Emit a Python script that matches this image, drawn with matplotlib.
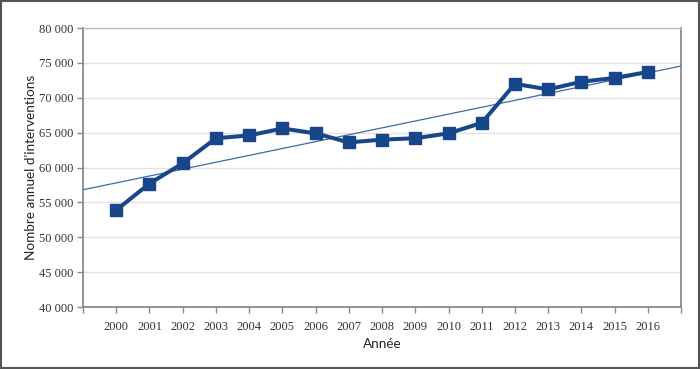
import numpy as np
import matplotlib
matplotlib.use("Agg")
import matplotlib.pyplot as plt
from matplotlib.patches import Rectangle

# Nombre annuel d'interventions par année
years = [2000, 2001, 2002, 2003, 2004, 2005, 2006, 2007, 2008,
         2009, 2010, 2011, 2012, 2013, 2014, 2015, 2016]
interventions = [53900, 57700, 60600, 64200, 64600, 65600, 64900, 63600, 64000,
                 64200, 64900, 66400, 72000, 71200, 72300, 72850, 73700]
y_ticks = [40000, 45000, 50000, 55000, 60000, 65000, 70000, 75000, 80000]
y_tick_labels = ["40 000", "45 000", "50 000", "55 000", "60 000",
                 "65 000", "70 000", "75 000", "80 000"]

line_color = "#17478a"
trend_color = "#3d6ba8"
axis_color = "#8a8a8a"
serif = "Liberation Serif"
sans = "Lato"

fig = plt.figure(figsize=(7.0, 3.69), dpi=100)
ax = fig.add_axes([0.1186, 0.168, 0.8544, 0.756])

# courbe principale
ax.plot(years, interventions, color=line_color, linewidth=2.9,
        marker="s", markersize=8, zorder=4)

# tendance linéaire sur tout l'axe
slope, intercept = np.polyfit(years, interventions, 1)
xs = np.array([1999, 2017])
ax.plot(xs, slope * xs + intercept, color=trend_color, linewidth=0.9, zorder=3)

ax.set_xlim(1999, 2017)
ax.set_ylim(40000, 80000)

ax.set_xticks(range(1999, 2018))
ax.set_xticklabels([""] + [str(y) for y in years] + [""],
                   fontsize=9, family=serif, color="#333333")
ax.set_yticks(y_ticks)
ax.set_yticklabels(y_tick_labels, fontsize=9, family=serif, color="#333333")

ax.tick_params(axis="both", direction="out", length=4, width=1,
               color=axis_color, pad=3)
ax.tick_params(axis="x", pad=6)

ax.grid(axis="y", color="#e2e2e2", linewidth=1)
ax.set_axisbelow(True)

for side in ["left", "bottom", "right"]:
    ax.spines[side].set_color(axis_color)
    ax.spines[side].set_linewidth(1.3)
ax.spines["top"].set_color("#bdbdbd")
ax.spines["top"].set_linewidth(1)

ax.set_ylabel("Nombre annuel d'interventions", fontsize=9.7, family=sans,
              color="#222222")
ax.yaxis.set_label_coords(-0.077, 0.5)
ax.set_xlabel("Année", fontsize=9.7, family=sans, color="#222222", labelpad=4)

# cadre autour de la figure
fig.patches.append(Rectangle((0.001, 0.002), 0.997, 0.995, transform=fig.transFigure,
                             fill=False, edgecolor="#555555", linewidth=1.5))

fig.savefig("out.png", dpi=100)
